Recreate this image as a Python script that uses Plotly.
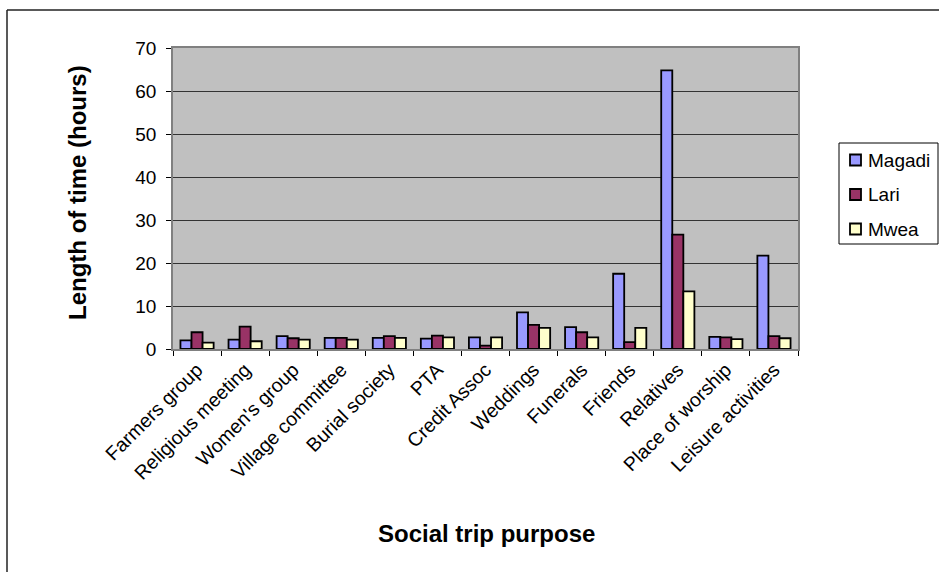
import plotly.graph_objects as go

# Social trip purposes (x categories)
purposes = [
    "Farmers group", "Religious meeting", "Women's group", "Village committee",
    "Burial society", "PTA", "Credit Assoc", "Weddings", "Funerals", "Friends",
    "Relatives", "Place of worship", "Leisure activities",
]

# Length of time (hours) per study site
magadi = [2.0, 2.2, 3.0, 2.6, 2.6, 2.4, 2.7, 8.5, 5.1, 17.5, 64.8, 2.8, 21.7]
lari = [3.9, 5.2, 2.5, 2.6, 3.0, 3.1, 0.8, 5.6, 3.9, 1.6, 26.6, 2.7, 3.0]
mwea = [1.5, 1.8, 2.2, 2.2, 2.6, 2.7, 2.7, 4.9, 2.7, 4.9, 13.4, 2.3, 2.5]

series_names = ["Magadi", "Lari", "Mwea"]
series_values = [magadi, lari, mwea]
series_colors = ["#9999FF", "#993366", "#FFFFCC"]

y_ticks = [0, 10, 20, 30, 40, 50, 60, 70]

FONT = "Liberation Sans, Arial, sans-serif"

fig = go.Figure()
for name, vals, color in zip(series_names, series_values, series_colors):
    fig.add_trace(go.Bar(
        x=purposes, y=vals, name=name,
        marker=dict(color=color, line=dict(color="#000000", width=1.8)),
    ))

# plot area in pixels
L, R, T, B = 173, 798, 48, 349
W, H = 939, 572
pw, ph = R - L, B - T


def px(x):
    return (x - L) / pw


def py(y):
    return (B - y) / ph


shapes = [
    # chart area frame (top and left edges)
    dict(type="line", xref="paper", yref="paper", x0=px(7), x1=px(W + 5),
         y0=py(10), y1=py(10), line=dict(color="#222222", width=1.5)),
    dict(type="line", xref="paper", yref="paper", x0=px(7), x1=px(7),
         y0=py(10), y1=py(H + 5), line=dict(color="#222222", width=1.5)),
    # legend box
    dict(type="rect", xref="paper", yref="paper", x0=px(839), x1=px(938),
         y0=py(143), y1=py(244), line=dict(color="#000000", width=1), fillcolor="#FFFFFF"),
]

annotations = [
    dict(text="<b>Social trip purpose</b>", xref="paper", yref="paper",
         x=px(486), y=py(533), xanchor="center", yanchor="middle",
         showarrow=False, font=dict(size=24, family=FONT)),
    dict(text="<b>Length of time (hours)</b>", xref="paper", yref="paper",
         x=px(77), y=py(193), xanchor="center", yanchor="middle", textangle=-90,
         showarrow=False, font=dict(size=24, family=FONT)),
]

# legend entries: swatch + label
for i, (name, color) in enumerate(zip(series_names, series_colors)):
    yc = 160 + i * 34.5
    shapes.append(dict(type="rect", xref="paper", yref="paper",
                       x0=px(850), x1=px(861), y0=py(yc - 5.5), y1=py(yc + 5.5),
                       line=dict(color="#000000", width=1.8), fillcolor=color))
    annotations.append(dict(text=name, xref="paper", yref="paper",
                            x=px(866), y=py(yc), xanchor="left", yanchor="middle",
                            showarrow=False, font=dict(size=19, family=FONT)))

fig.update_layout(
    width=W, height=H,
    margin=dict(l=L, r=W - R, t=T, b=H - B, autoexpand=False),
    paper_bgcolor="#FFFFFF",
    plot_bgcolor="#C0C0C0",
    barmode="group", bargap=0.31, bargroupgap=0.0,
    font=dict(family=FONT, color="#000000"),
    showlegend=False,
    xaxis=dict(
        tickangle=-45, tickfont=dict(size=19.5, family=FONT),
        showline=True, linecolor="#808080", linewidth=1.5,
        ticks="outside", ticklen=5, tickcolor="#000000",
        tickson="boundaries", showgrid=False, mirror=True,
        range=[-0.5, len(purposes) - 0.5],
    ),
    yaxis=dict(
        range=[0, 70], tickvals=y_ticks, ticktext=[str(v) for v in y_ticks],
        tickfont=dict(size=19, family=FONT), ticklabelstandoff=6,
        showline=True, linecolor="#808080", linewidth=1.5, mirror=True,
        ticks="outside", ticklen=5, tickcolor="#000000",
        showgrid=True, gridcolor="#333333", gridwidth=1,
        zeroline=False,
    ),
    annotations=annotations,
    shapes=shapes,
)

fig.write_html("out.html")
